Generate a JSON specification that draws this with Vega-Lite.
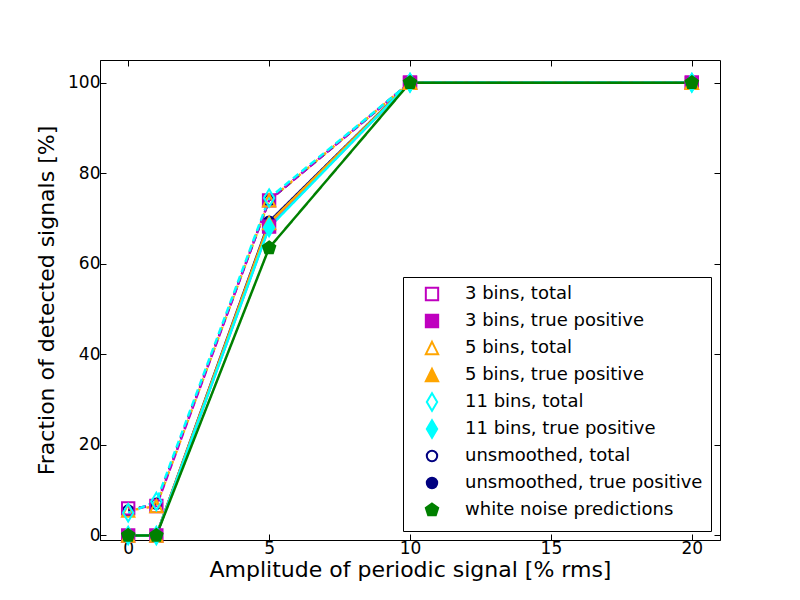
{
  "$schema": "https://vega.github.io/schema/vega-lite/v6.json",
  "width": 620,
  "height": 480,
  "autosize": {"type": "none"},
  "padding": {"left": 100, "top": 60, "right": 80, "bottom": 60},
  "background": "white",
  "config": {
    "font": "DejaVu Sans",
    "view": {"stroke": "black", "strokeWidth": 1},
    "axis": {
      "grid": false,
      "domainColor": "black",
      "tickColor": "black",
      "labelColor": "black",
      "titleColor": "black",
      "labelFont": "DejaVu Sans",
      "titleFont": "DejaVu Sans",
      "labelFontSize": 17,
      "titleFontSize": 22,
      "titleFontWeight": "normal",
      "tickSize": -6,
      "labelPadding": 6
    },
    "axisX": {"titlePadding": 3},
    "axisY": {"titlePadding": 9},
    "legend": {
      "orient": "bottom-right",
      "offset": 9,
      "fillColor": "white",
      "strokeColor": "black",
      "padding": 8,
      "labelFont": "DejaVu Sans",
      "labelFontSize": 18,
      "labelColor": "black",
      "labelLimit": 0,
      "symbolSize": 169,
      "symbolStrokeWidth": 2,
      "rowPadding": 1,
      "symbolOffset": 12,
      "labelOffset": 24
    }
  },
  "data": {
    "values": [
      {"series": "unsmoothed, total", "kind": "total", "x": 0, "y": 5.5},
      {"series": "unsmoothed, total", "kind": "total", "x": 1, "y": 7.0},
      {"series": "unsmoothed, total", "kind": "total", "x": 5, "y": 74.0},
      {"series": "unsmoothed, total", "kind": "total", "x": 10, "y": 100},
      {"series": "unsmoothed, total", "kind": "total", "x": 20, "y": 100},
      {"series": "unsmoothed, true positive", "kind": "true positive", "x": 0, "y": 0},
      {"series": "unsmoothed, true positive", "kind": "true positive", "x": 1, "y": 0},
      {"series": "unsmoothed, true positive", "kind": "true positive", "x": 5, "y": 69.3},
      {"series": "unsmoothed, true positive", "kind": "true positive", "x": 10, "y": 100},
      {"series": "unsmoothed, true positive", "kind": "true positive", "x": 20, "y": 100},
      {"series": "3 bins, total", "kind": "total", "x": 0, "y": 6.0},
      {"series": "3 bins, total", "kind": "total", "x": 1, "y": 6.5},
      {"series": "3 bins, total", "kind": "total", "x": 5, "y": 74.0},
      {"series": "3 bins, total", "kind": "total", "x": 10, "y": 100},
      {"series": "3 bins, total", "kind": "total", "x": 20, "y": 100},
      {"series": "3 bins, true positive", "kind": "true positive", "x": 0, "y": 0},
      {"series": "3 bins, true positive", "kind": "true positive", "x": 1, "y": 0},
      {"series": "3 bins, true positive", "kind": "true positive", "x": 5, "y": 68.2},
      {"series": "3 bins, true positive", "kind": "true positive", "x": 10, "y": 100},
      {"series": "3 bins, true positive", "kind": "true positive", "x": 20, "y": 100},
      {"series": "5 bins, total", "kind": "total", "x": 0, "y": 5.5},
      {"series": "5 bins, total", "kind": "total", "x": 1, "y": 6.5},
      {"series": "5 bins, total", "kind": "total", "x": 5, "y": 74.0},
      {"series": "5 bins, total", "kind": "total", "x": 10, "y": 100},
      {"series": "5 bins, total", "kind": "total", "x": 20, "y": 100},
      {"series": "5 bins, true positive", "kind": "true positive", "x": 0, "y": 0},
      {"series": "5 bins, true positive", "kind": "true positive", "x": 1, "y": 0},
      {"series": "5 bins, true positive", "kind": "true positive", "x": 5, "y": 69.0},
      {"series": "5 bins, true positive", "kind": "true positive", "x": 10, "y": 100},
      {"series": "5 bins, true positive", "kind": "true positive", "x": 20, "y": 100},
      {"series": "11 bins, total", "kind": "total", "x": 0, "y": 5.0},
      {"series": "11 bins, total", "kind": "total", "x": 1, "y": 7.5},
      {"series": "11 bins, total", "kind": "total", "x": 5, "y": 74.5},
      {"series": "11 bins, total", "kind": "total", "x": 10, "y": 100},
      {"series": "11 bins, total", "kind": "total", "x": 20, "y": 100},
      {"series": "11 bins, true positive", "kind": "true positive", "x": 0, "y": 0},
      {"series": "11 bins, true positive", "kind": "true positive", "x": 1, "y": 0},
      {"series": "11 bins, true positive", "kind": "true positive", "x": 5, "y": 68.0},
      {"series": "11 bins, true positive", "kind": "true positive", "x": 10, "y": 100},
      {"series": "11 bins, true positive", "kind": "true positive", "x": 20, "y": 100},
      {"series": "white noise predictions", "kind": "true positive", "x": 0, "y": 0},
      {"series": "white noise predictions", "kind": "true positive", "x": 1, "y": 0},
      {"series": "white noise predictions", "kind": "true positive", "x": 5, "y": 63.5},
      {"series": "white noise predictions", "kind": "true positive", "x": 10, "y": 100},
      {"series": "white noise predictions", "kind": "true positive", "x": 20, "y": 100}
    ]
  },
  "resolve": {"axis": {"x": "independent", "y": "independent"}},
  "layer": [
    {
      "mark": {"type": "line", "strokeWidth": 2.5},
      "encoding": {
        "x": {
          "field": "x",
          "type": "quantitative",
          "scale": {"domain": [-1, 21], "nice": false, "zero": false},
          "axis": {"values": [0, 5, 10, 15, 20], "title": "Amplitude of periodic signal [% rms]"}
        },
        "y": {
          "field": "y",
          "type": "quantitative",
          "scale": {"domain": [-1, 105], "nice": false, "zero": false},
          "axis": {"values": [0, 20, 40, 60, 80, 100], "title": "Fraction of detected signals [%]"}
        },
        "color": {
          "field": "series",
          "type": "nominal",
          "scale": {
            "domain": ["unsmoothed, total", "unsmoothed, true positive", "3 bins, total", "3 bins, true positive", "5 bins, total", "5 bins, true positive", "11 bins, total", "11 bins, true positive", "white noise predictions"],
            "range": ["#000080", "#000080", "#bf00bf", "#bf00bf", "#ffa500", "#ffa500", "#00ffff", "#00ffff", "#008000"]
          },
          "legend": null
        },
        "strokeDash": {
          "field": "series",
          "type": "nominal",
          "scale": {
            "domain": ["unsmoothed, total", "unsmoothed, true positive", "3 bins, total", "3 bins, true positive", "5 bins, total", "5 bins, true positive", "11 bins, total", "11 bins, true positive", "white noise predictions"],
            "range": [[7, 4], [1, 0], [7, 4], [1, 0], [0, 7.5, 3, 0.5], [1, 0], [7, 4], [1, 0], [1, 0]]
          },
          "legend": null
        }
      }
    },
    {
      "mark": {"type": "point", "strokeWidth": 2, "opacity": 1, "size": 169},
      "encoding": {
        "x": {
          "field": "x",
          "type": "quantitative",
          "axis": {"orient": "top", "values": [0, 5, 10, 15, 20], "labels": false, "title": null, "domain": false}
        },
        "y": {
          "field": "y",
          "type": "quantitative",
          "axis": {"orient": "right", "values": [0, 20, 40, 60, 80, 100], "labels": false, "title": null, "domain": false}
        },
        "stroke": {
          "field": "series",
          "type": "nominal",
          "legend": {"title": null},
          "scale": {
            "domain": ["3 bins, total", "3 bins, true positive", "5 bins, total", "5 bins, true positive", "11 bins, total", "11 bins, true positive", "unsmoothed, total", "unsmoothed, true positive", "white noise predictions"],
            "range": ["#bf00bf", "#bf00bf", "#ffa500", "#ffa500", "#00ffff", "#00ffff", "#000080", "#000080", "#008000"]
          }
        },
        "fill": {
          "field": "series",
          "type": "nominal",
          "legend": {"title": null},
          "scale": {
            "domain": ["3 bins, total", "3 bins, true positive", "5 bins, total", "5 bins, true positive", "11 bins, total", "11 bins, true positive", "unsmoothed, total", "unsmoothed, true positive", "white noise predictions"],
            "range": ["transparent", "#bf00bf", "transparent", "#ffa500", "transparent", "#00ffff", "transparent", "#000080", "#008000"]
          }
        },
        "shape": {
          "field": "series",
          "type": "nominal",
          "legend": {"title": null},
          "scale": {
            "domain": ["3 bins, total", "3 bins, true positive", "5 bins, total", "5 bins, true positive", "11 bins, total", "11 bins, true positive", "unsmoothed, total", "unsmoothed, true positive", "white noise predictions"],
            "range": [
              "M0,-1.35M0,1.35M-0.95,-0.95H0.95V0.95H-0.95Z",
              "M0,-1.35M0,1.35M-0.95,-0.95H0.95V0.95H-0.95Z",
              "M0,-1.35M0,1.35M0,-0.95L0.95,0.95L-0.95,0.95Z",
              "M0,-1.35M0,1.35M0,-0.95L0.95,0.95L-0.95,0.95Z",
              "M0,-1.35L0.8,0L0,1.35L-0.8,0Z",
              "M0,-1.35L0.8,0L0,1.35L-0.8,0Z",
              "M0,-1.35M0,1.35M0.8,0A0.8,0.8 0 1,1 -0.8,0A0.8,0.8 0 1,1 0.8,0Z",
              "M0,-1.35M0,1.35M0.8,0A0.8,0.8 0 1,1 -0.8,0A0.8,0.8 0 1,1 0.8,0Z",
              "M0,-1.35M0,1.35M0,-1L0.951,-0.309L0.588,0.809L-0.588,0.809L-0.951,-0.309Z"
            ]
          }
        }
      }
    }
  ]
}
